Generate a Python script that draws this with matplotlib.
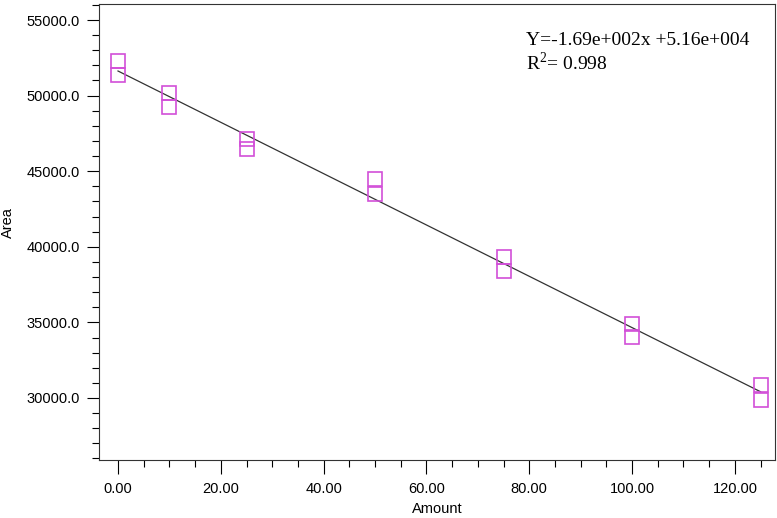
import numpy as np
import matplotlib.pyplot as plt
from matplotlib.ticker import MultipleLocator, FormatStrFormatter

# standards: amount vs peak area (two injections each)
amount = [0, 0, 10, 10, 25, 25, 50, 50, 75, 75, 100, 100, 125, 125]
area = [52320, 51330, 50200, 49220, 47160, 46470, 44500, 43490,
        39320, 38400, 34890, 34030, 30890, 29870]

eq_text = "Y=-1.69e+002x +5.16e+004"
r2_text = "R$^2$= 0.998"

plt.rcParams['font.family'] = ['Liberation Sans', 'DejaVu Sans']
plt.rcParams['mathtext.fontset'] = 'custom'
plt.rcParams['mathtext.rm'] = 'Liberation Serif'

fig = plt.figure(figsize=(7.77, 5.18), dpi=100)
ax = fig.add_axes([0.1274, 0.112, 0.8700, 0.8812])

# fitted line
k, b = np.polyfit(amount, area, 1)
xs = np.array([min(amount), max(amount)])
ax.plot(xs, k * xs + b, color='#333333', lw=0.9, zorder=2)

ax.plot(amount, area, linestyle='none', marker='s', markersize=10,
        markerfacecolor='none', markeredgecolor='#d24fd8', markeredgewidth=1.2,
        zorder=3)

ax.set_xlim(-3.7, 127.8)
ax.set_ylim(25900, 56090)

ax.xaxis.set_major_locator(MultipleLocator(20))
ax.xaxis.set_minor_locator(MultipleLocator(5))
ax.yaxis.set_major_locator(MultipleLocator(5000))
ax.yaxis.set_minor_locator(MultipleLocator(1000))
ax.xaxis.set_major_formatter(FormatStrFormatter('%.2f'))
ax.yaxis.set_major_formatter(FormatStrFormatter('%.1f'))

ax.tick_params(axis='x', which='major', length=10, width=0.8, pad=6, labelsize=10.5)
ax.tick_params(axis='x', which='minor', length=5, width=0.8)
ax.tick_params(axis='y', which='major', length=9, width=0.8, pad=5, labelsize=10.5)
ax.tick_params(axis='y', which='minor', length=5, width=0.8)

for s in ax.spines.values():
    s.set_linewidth(0.8)
    s.set_color('#333333')

ax.set_xlabel('Amount', fontsize=10.5, labelpad=4)
ax.set_ylabel('Area', fontsize=10.5)
ax.yaxis.set_label_coords(-0.124, 0.52)

ax.text(0.632, 0.938, eq_text, transform=ax.transAxes, fontsize=14,
        family='Liberation Serif', va='top', ha='left')
ax.text(0.632, 0.895, r2_text, transform=ax.transAxes, fontsize=14,
        family='Liberation Serif', va='top', ha='left')

fig.savefig('out.png', dpi=100)
